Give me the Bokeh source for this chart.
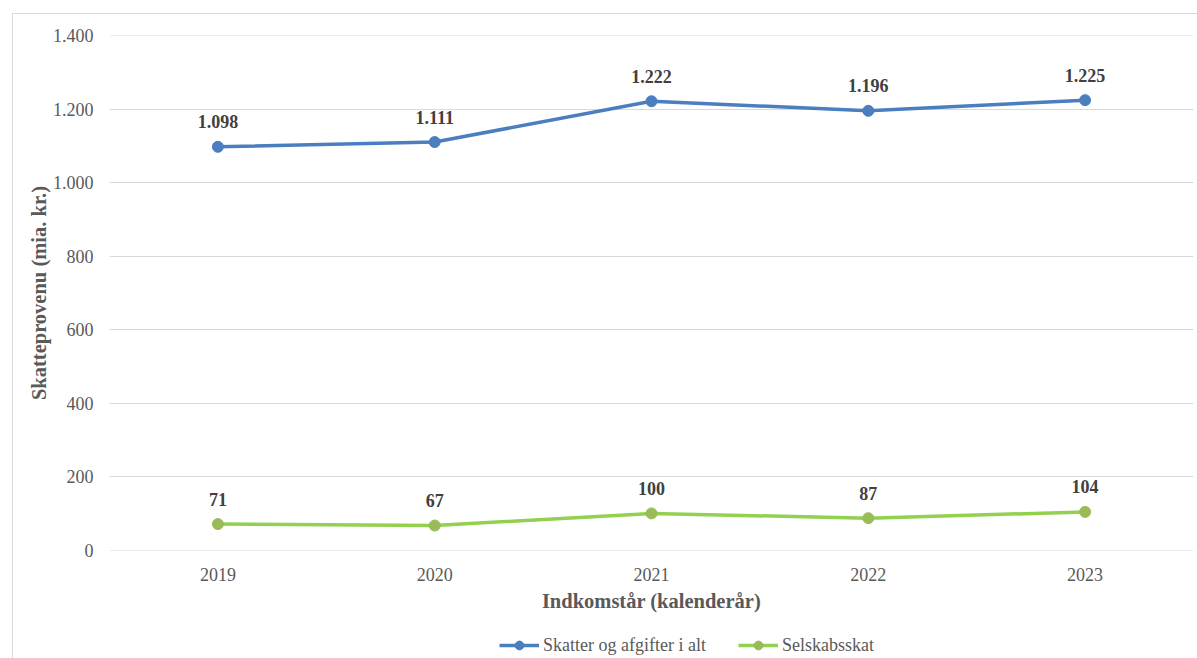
from bokeh.plotting import figure
from bokeh.layouts import column
from bokeh.models import (ColumnDataSource, FixedTicker, Legend, LegendItem,
                          Range1d)
from bokeh.core.properties import value
from bokeh.embed import file_html
from bokeh.resources import INLINE

years = ["2019", "2020", "2021", "2022", "2023"]
total_taxes = [1098, 1111, 1222, 1196, 1225]
corporate_tax = [71, 67, 100, 87, 104]
y_ticks = [0, 200, 400, 600, 800, 1000, 1200, 1400]

FONT = "Liberation Serif"
BLUE = "#4A7EBF"
GREEN_LINE = "#92D050"
GREEN_MARK = "#9BBB59"


def danish(n):
    return f"{n:,}".replace(",", ".")


# page geometry of the chart area (its frame is a CSS border)
OX, OY = 13, 14
W = 1197 - OX
MAIN_BOTTOM = 625          # page y where the legend strip starts
H_MAIN = MAIN_BOTTOM - OY
H_LEG = 658 - MAIN_BOTTOM
FRAME_LEFT = 109
L, R, T, B = FRAME_LEFT - OX, 4, 35 - OY, MAIN_BOTTOM - 550

p = figure(width=W, height=H_MAIN, x_range=years, y_range=Range1d(-1, 1401),
           output_backend="svg", toolbar_location=None,
           min_border_left=L, min_border_right=R,
           min_border_top=T, min_border_bottom=B)
p.x_range.range_padding = 0
p.outline_line_color = None
p.background_fill_color = "white"
p.border_fill_color = "white"

# grid
p.xgrid.grid_line_color = None
p.ygrid.grid_line_color = "#D9D9D9"
p.ygrid.grid_line_width = 1.2

# axes
p.yaxis.ticker = FixedTicker(ticks=y_ticks)
p.yaxis.major_label_overrides = {t: danish(t) for t in y_ticks}
for ax in (p.xaxis[0], p.yaxis[0]):
    ax.axis_line_color = None
    ax.major_tick_line_color = None
    ax.minor_tick_line_color = None
    ax.major_label_text_font = FONT
    ax.major_label_text_font_size = "18px"
    ax.major_label_text_color = "#595959"
    ax.axis_label_text_font = FONT
    ax.axis_label_text_font_style = "bold"
    ax.axis_label_text_font_size = "20.5px"
    ax.axis_label_text_color = "#595959"
p.yaxis.major_label_standoff = 10
p.xaxis.major_label_standoff = 11
p.xaxis.axis_label = "Indkomstår (kalenderår)"
p.yaxis.axis_label = "Skatteprovenu (mia. kr.)"
p.xaxis.axis_label_standoff = 6
p.yaxis.axis_label_standoff = 0

src = ColumnDataSource(data=dict(
    year=years,
    total=total_taxes,
    corp=corporate_tax,
    total_lbl=[danish(v) for v in total_taxes],
    corp_lbl=[danish(v) for v in corporate_tax],
))

line_style = dict(line_width=3.5)
marker_style = dict(size=11)


def add_series(fig, col, line_color, mark_color, visible=True):
    ln = fig.line("year", col, source=src, line_color=line_color,
                  visible=visible, **line_style)
    mk = fig.scatter("year", col, source=src, fill_color=mark_color,
                     line_color=mark_color, visible=visible, **marker_style)
    return ln, mk


add_series(p, "total", BLUE, BLUE)
add_series(p, "corp", GREEN_LINE, GREEN_MARK)

for col, lbl in (("total", "total_lbl"), ("corp", "corp_lbl")):
    p.text("year", col, text=lbl, source=src, text_font=value(FONT),
           text_font_style="bold", text_font_size="18px",
           text_color="#404040", text_align="center",
           text_baseline="middle", y_offset=-25)

# legend strip under the plot (its frame lines up with the plot frame)
lf = figure(width=W, height=H_LEG, x_range=years, y_range=Range1d(0, 1500),
            output_backend="svg", toolbar_location=None,
            min_border_left=L, min_border_right=R,
            min_border_top=0, min_border_bottom=0)
lf.axis.visible = False
lf.grid.grid_line_color = None
lf.outline_line_color = None
g1, s1 = add_series(lf, "total", BLUE, BLUE, visible=False)
g2, s2 = add_series(lf, "corp", GREEN_LINE, GREEN_MARK, visible=False)

legend = Legend(items=[
    LegendItem(label="Skatter og afgifter i alt", renderers=[g1, s1]),
    LegendItem(label="Selskabsskat", renderers=[g2, s2]),
], orientation="horizontal", location=(499 - FRAME_LEFT, 2),
    label_text_font=FONT, label_text_font_size="18px",
    label_text_color="#595959", glyph_width=40, glyph_height=22,
    label_standoff=4, spacing=32, padding=0, margin=0,
    inactive_fill_alpha=0, click_policy="none",
    border_line_color=None, background_fill_alpha=0)
lf.add_layout(legend, "center")

page = column(p, lf, spacing=0)
page.styles = {"transform": f"translate({OX - 1}px, {OY - 1}px)",
               "border-left": "1.5px solid #D9D9D9",
               "border-top": "1.5px solid #D9D9D9"}

open("out.html", "w").write(file_html(page, INLINE))
